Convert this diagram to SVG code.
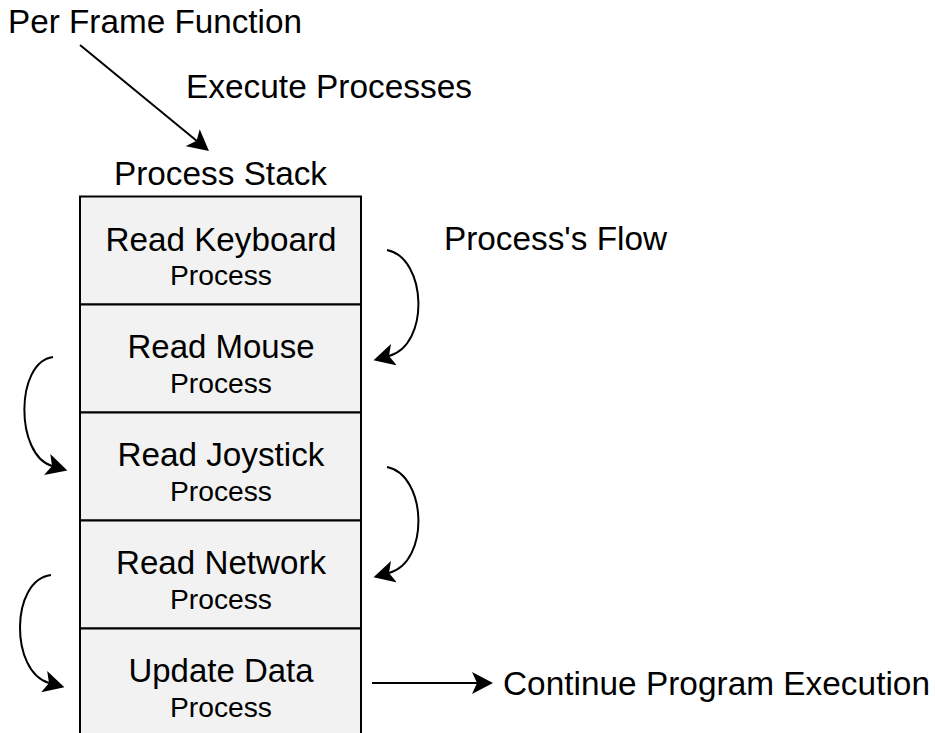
<svg xmlns="http://www.w3.org/2000/svg" width="935" height="733" viewBox="0 0 935 733">
<defs>
<style>
text{font-family:"Liberation Sans",Arial,Helvetica,sans-serif;fill:#000}
.lbl{font-size:33px}
.ttl{font-size:33px;text-anchor:middle}
.sub{font-size:28px;text-anchor:middle}
.box{fill:#f2f2f2;stroke:#000;stroke-width:2}
.con{fill:none;stroke:#000;stroke-width:2;marker-end:url(#ah)}
</style>
<marker id="ah" markerUnits="userSpaceOnUse" viewBox="0 0 22 22" markerWidth="22" markerHeight="22" refX="5" refY="11" orient="auto">
<path d="M0,0 L21,11 L0,22 L5,11 z" fill="#000"/>
</marker>
</defs>
<rect width="935" height="733" fill="#fff"/>

<g id="labels">
<text class="lbl" x="8" y="33" textLength="294" lengthAdjust="spacingAndGlyphs">Per Frame Function</text>
<text class="lbl" x="186" y="98" textLength="286" lengthAdjust="spacingAndGlyphs">Execute Processes</text>
<text class="lbl" x="114" y="185" textLength="213" lengthAdjust="spacingAndGlyphs">Process Stack</text>
<text class="lbl" x="444" y="250" textLength="223" lengthAdjust="spacingAndGlyphs">Process's Flow</text>
<text class="lbl" x="503" y="695" textLength="427" lengthAdjust="spacingAndGlyphs">Continue Program Execution</text>
</g>

<g id="node-keyboard">
<rect class="box" x="80" y="196.5" width="281" height="108"/>
<text class="ttl" x="221" y="251" textLength="231" lengthAdjust="spacingAndGlyphs">Read Keyboard</text>
<text class="sub" x="221" y="285" textLength="102" lengthAdjust="spacingAndGlyphs">Process</text>
</g>
<g id="node-mouse">
<rect class="box" x="80" y="304.5" width="281" height="108"/>
<text class="ttl" x="221" y="358" textLength="187" lengthAdjust="spacingAndGlyphs">Read Mouse</text>
<text class="sub" x="221" y="393" textLength="102" lengthAdjust="spacingAndGlyphs">Process</text>
</g>
<g id="node-joystick">
<rect class="box" x="80" y="412.5" width="281" height="108"/>
<text class="ttl" x="221" y="466" textLength="207" lengthAdjust="spacingAndGlyphs">Read Joystick</text>
<text class="sub" x="221" y="501" textLength="102" lengthAdjust="spacingAndGlyphs">Process</text>
</g>
<g id="node-network">
<rect class="box" x="80" y="520.5" width="281" height="108"/>
<text class="ttl" x="221" y="574" textLength="210" lengthAdjust="spacingAndGlyphs">Read Network</text>
<text class="sub" x="221" y="609" textLength="102" lengthAdjust="spacingAndGlyphs">Process</text>
</g>
<g id="node-update">
<rect class="box" x="80" y="628.5" width="281" height="130"/>
<text class="ttl" x="221" y="682" textLength="185" lengthAdjust="spacingAndGlyphs">Update Data</text>
<text class="sub" x="221" y="717" textLength="102" lengthAdjust="spacingAndGlyphs">Process</text>
</g>

<g id="connectors">
<path class="con" d="M80,45 L196.6,140.8"/>
<path class="con" d="M387,250 C427,258 430,345 389,356"/>
<path class="con" d="M53,357 C15,362 15,455 52,466"/>
<path class="con" d="M387,467 C427,475 430,562 389,573"/>
<path class="con" d="M51,575 C10,580 10,672 49,683"/>
<path class="con" d="M372,683 L477,683"/>
</g>
</svg>
